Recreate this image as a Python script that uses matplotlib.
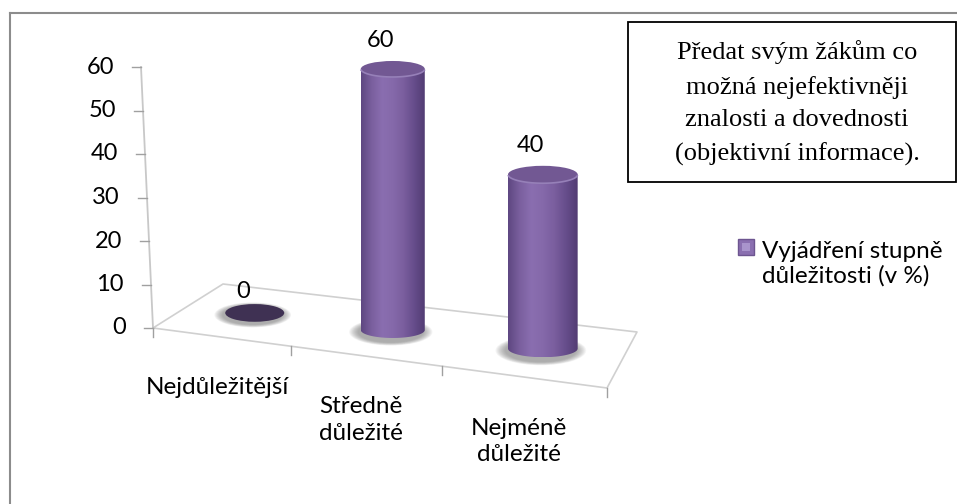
import numpy as np
import matplotlib
matplotlib.use("Agg")
import matplotlib.pyplot as plt
from matplotlib.patches import Ellipse, Rectangle, PathPatch
from matplotlib.path import Path
from matplotlib.colors import LinearSegmentedColormap

# ---------------- data ----------------
categories = ["Nejdůležitější", "Středně\ndůležité", "Nejméně\ndůležité"]
values = [0, 60, 40]
y_ticks = [0, 10, 20, 30, 40, 50, 60]
series_name = "Vyjádření stupně\ndůležitosti (v %)"
note_text = "Předat svým žákům co\nmožná nejefektivněji\nznalosti a dovednosti\n(objektivní informace)."

# ---------------- layout (pixel canvas) ----------------
W, H = 957, 504
fig = plt.figure(figsize=(W / 100, H / 100), dpi=100)
ax = fig.add_axes([0, 0, 1, 1])
ax.set_xlim(0, W)
ax.set_ylim(H, 0)
ax.axis("off")

FONT = ["Lato", "DejaVu Sans"]
FS_CAT = 17.5
FS_TICK = 17
FS_LEG = 17.5

# floor quad corners: front-left, front-right, back-right, back-left
FL, FR, BR, BL = (153, 328), (607, 388), (637, 332), (223, 284)
AX_TOP = (141, 67)          # top of the value axis (at max tick)
YMAX = max(y_ticks)
PX_PER_UNIT = (FL[1] - AX_TOP[1]) / YMAX


def homography(src, dst):
    A, b = [], []
    for (x, y), (X, Y) in zip(src, dst):
        A.append([x, y, 1, 0, 0, 0, -X * x, -X * y]); b.append(X)
        A.append([0, 0, 0, x, y, 1, -Y * x, -Y * y]); b.append(Y)
    h = np.linalg.solve(np.array(A, float), np.array(b, float))
    return np.append(h, 1).reshape(3, 3)


Hm = homography([(0, 0), (1, 0), (1, 1), (0, 1)], [FL, FR, BR, BL])


def floor(u, w):
    p = Hm @ np.array([u, w, 1.0])
    return p[0] / p[2], p[1] / p[2]


# outer chart border
ax.plot([10, 10], [H, 13], color="#8c8c8c", lw=1.5, zorder=1)
ax.plot([10, W], [13, 13], color="#8c8c8c", lw=1.5, zorder=1)

# floor outline
fl = np.array([FL, FR, BR, BL, FL])
ax.plot(fl[:, 0], fl[:, 1], color="#d0d0d0", lw=1.2, zorder=2)

# value axis
ax.plot([FL[0], AX_TOP[0]], [FL[1], AX_TOP[1]], color="#c8c8c8", lw=1.3, zorder=2)
for t in y_ticks:
    f = t / YMAX
    x = FL[0] + (AX_TOP[0] - FL[0]) * f
    y = FL[1] - PX_PER_UNIT * t
    ax.plot([x - 9, x], [y, y], color="#a0a0a0", lw=1.0, zorder=2)
    ax.text(x - 27, y, str(t), ha="right", va="center", fontsize=FS_TICK,
            family=FONT, color="black")

# category ticks and labels
n = len(categories)
for i in range(n + 1):
    x, y = floor(i / n, 0)
    ax.plot([x, x], [y, y + 9], color="#a0a0a0", lw=1.0, zorder=2)
label_off = [(-3, 51), (-4, 64), (-4, 65)]
for i, c in enumerate(categories):
    x, y = floor((i + 0.5) / n, 0)
    dx, dy = label_off[i]
    ax.text(x + dx, y + dy, c, ha="center", va="center", fontsize=FS_CAT,
            family=FONT, linespacing=1.3)

# ---------------- cylinders ----------------
cmap = LinearSegmentedColormap.from_list(
    "cyl", ["#5e4781", "#7a5f9e", "#8a6eb0", "#8569aa", "#7a5e9e", "#664d8b", "#523c73"])
grad = cmap(np.linspace(0, 1, 256))[None, :, :]
DIAM = 0.445   # fraction of category width

for i, v in enumerate(values):
    u = (i + 0.5) / n
    cx, cy = floor(u, 0.5)
    xl, _ = floor(u - DIAM / (2 * n), 0.5)
    xr, _ = floor(u + DIAM / (2 * n), 0.5)
    rx = (xr - xl) / 2
    ry = rx * 0.25
    # blurred shadow
    for k in range(10):
        s = 1.3 - k * 0.03
        ax.add_patch(Ellipse((cx - 2, cy + 2), 2 * rx * s, 2 * ry * s * 1.3,
                             facecolor="#6a6a6a", edgecolor="none", alpha=0.07, zorder=3))
    top = cy - v * PX_PER_UNIT
    if v == 0:
        ax.add_patch(Ellipse((cx, cy), 2 * rx, 2 * ry * 1.2, facecolor="#3f3153",
                             edgecolor="none", zorder=5))
        ax.text(cx - 12, cy - 21, str(v), ha="center", va="center", fontsize=FS_TICK, family=FONT)
        continue
    th = np.linspace(0, np.pi, 60)
    verts = np.vstack([[[cx - rx, top]],
                       np.column_stack([cx - rx * np.cos(th), cy + ry * np.sin(th)]),
                       [[cx + rx, top]], [[cx - rx, top]]])
    patch = PathPatch(Path(verts, closed=True), facecolor="none", edgecolor="none", zorder=5)
    ax.add_patch(patch)
    im = ax.imshow(grad, extent=[cx - rx, cx + rx, cy + ry, top], aspect="auto",
                   zorder=5, interpolation="bilinear")
    im.set_clip_path(patch)
    ax.set_xlim(0, W)
    ax.set_ylim(H, 0)
    # top cap
    ax.add_patch(Ellipse((cx, top), 2 * rx, 2 * ry, facecolor="#725893",
                         edgecolor="none", zorder=6))
    th2 = np.linspace(0.15, np.pi - 0.15, 40)
    ax.plot(cx + rx * np.cos(th2), top + ry * np.sin(th2), color="#9680b8", lw=1.2, zorder=7)
    ax.text(cx - 12, top - ry - 20, str(v), ha="center", va="center", fontsize=FS_TICK,
            family=FONT)

# ---------------- legend ----------------
lx, ly = 746, 247
ax.add_patch(Rectangle((lx - 8, ly - 8), 16, 16, facecolor="#8a6fb0", edgecolor="#6d5590",
                       lw=1.0, zorder=5))
ax.add_patch(Rectangle((lx - 4, ly - 4), 8, 8, facecolor="#a994cc", edgecolor="none", zorder=6))
ax.text(lx + 16, ly + 17, series_name, ha="left", va="center", fontsize=FS_LEG, family=FONT,
        linespacing=1.2)

# ---------------- note box ----------------
ax.add_patch(Rectangle((628, 22), W - 1 - 628, 160, facecolor="white", edgecolor="black",
                       lw=1.3, zorder=8))
ax.text(797, 103, note_text, ha="center", va="center", fontsize=19,
        family=["Liberation Serif", "DejaVu Serif"], linespacing=1.62, zorder=9)

fig.savefig("out.png", dpi=100)
